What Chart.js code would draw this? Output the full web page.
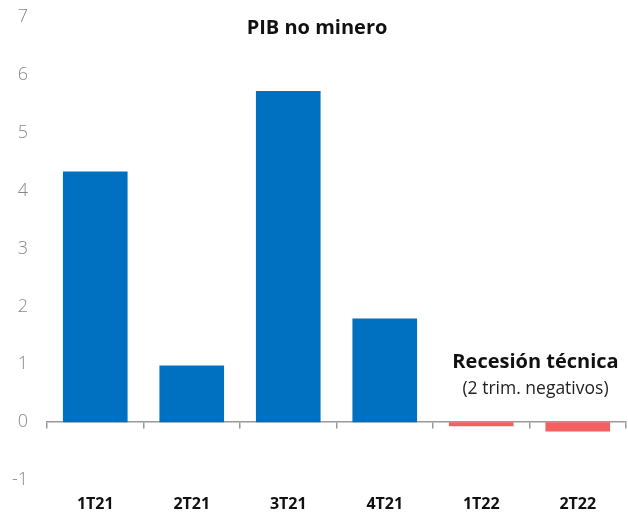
<!DOCTYPE html>
<html>
<head>
<meta charset="utf-8">
<script src="https://cdn.jsdelivr.net/npm/chart.js@4/dist/chart.umd.min.js"></script>
<style>
html,body{margin:0;padding:0;background:#fff;}
#wrap{width:628px;height:517px;position:relative;}
</style>
</head>
<body>
<div id="wrap"><canvas id="c" width="628" height="517"></canvas></div>
<script>
const categories = ["1T21","2T21","3T21","4T21","1T22","2T22"];
const values = [4.33, 0.98, 5.72, 1.79, -0.07, -0.16];
const barColors = ["#0070C0","#0070C0","#0070C0","#0070C0","#F4605F","#F4605F"];
const yTicks = [-1,0,1,2,3,4,5,6,7];
const titleText = "PIB no minero";
const noteTitle = "Recesión técnica";
const noteSub = "(2 trim. negativos)";

const textPlugin = {
  id: 'texts',
  afterDraw(chart) {
    const ctx = chart.ctx;
    const x = chart.scales.x, y = chart.scales.y;
    ctx.save();
    ctx.fillStyle = '#111';
    ctx.textAlign = 'center';
    ctx.textBaseline = 'middle';
    ctx.font = 'bold 20px "Open Sans"';
    ctx.fillText(titleText, chart.width / 2 + 3, y.getPixelForValue(6.8));
    const cx = (x.getPixelForValue(4) + x.getPixelForValue(5)) / 2 + 6;
    ctx.font = 'bold 20px "Open Sans"';
    ctx.fillText(noteTitle, cx, y.getPixelForValue(1.03));
    ctx.font = '17.5px "Open Sans"';
    ctx.fillStyle = '#222';
    ctx.fillText(noteSub, cx, y.getPixelForValue(0.58));
    ctx.restore();
  }
};

new Chart(document.getElementById('c'), {
  type: 'bar',
  data: {
    labels: categories,
    datasets: [{
      data: values,
      backgroundColor: barColors,
      borderWidth: 0,
      categoryPercentage: 0.67,
      barPercentage: 1.0,
      xAxisID: 'x'
    }]
  },
  options: {
    responsive: false,
    animation: false,
    layout: { padding: { left: 8, right: 2, top: 17, bottom: 3 } },
    plugins: { legend: { display: false }, tooltip: { enabled: false }, title: { display: false } },
    scales: {
      x: {
        type: 'category',
        position: { y: 0 },
        offset: true,
        grid: { display: true, drawOnChartArea: false, drawTicks: true, tickLength: 6, color: '#999', offset: true, lineWidth: 1.5 },
        border: { display: true, color: '#999', width: 1.5 },
        ticks: { display: false }
      },
      x2: {
        type: 'category',
        labels: categories,
        position: 'bottom',
        offset: true,
        afterFit(scale) { scale.height = 34; scale.paddingTop = 0; scale.paddingBottom = 0; },
        grid: { display: false, drawTicks: false },
        border: { display: false },
        ticks: { color: '#111', font: { family: '"Open Sans"', size: 16, weight: 'bold' }, padding: 15 }
      },
      y: {
        min: -1, max: 7,
        afterBuildTicks(scale) { scale.ticks = yTicks.map(v => ({ value: v })); },
        afterFit(scale) { scale.width = 39; scale.paddingTop = 0; scale.paddingBottom = 0; },
        grid: { display: false, drawTicks: false },
        border: { display: false },
        ticks: { color: '#888', font: { family: '"Open Sans"', size: 18, weight: '300' }, padding: 19 }
      }
    }
  },
  plugins: [textPlugin]
});
</script>
</body>
</html>
